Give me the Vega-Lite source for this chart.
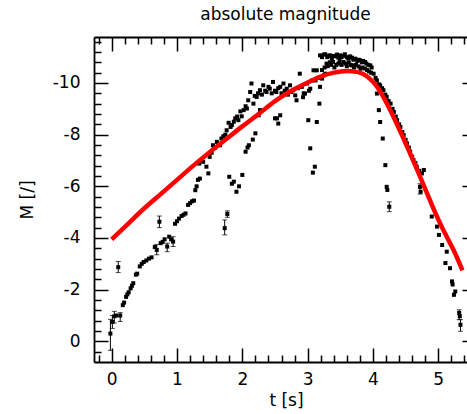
{
  "$schema": "https://vega.github.io/schema/vega-lite/v6.json",
  "width": 373,
  "height": 325,
  "autosize": {"type": "none"},
  "padding": {"left": 94, "top": 37, "right": 0, "bottom": 52},
  "background": "white",
  "config": {
    "view": {"stroke": null},
    "font": "DejaVu Sans",
    "axis": {"grid": false, "domainColor": "black", "domainWidth": 1.8, "tickColor": "black", "tickWidth": 1.5, "labelColor": "black", "titleColor": "black", "labelFont": "DejaVu Sans", "titleFont": "DejaVu Sans", "labelFontSize": 17, "titleFontSize": 17, "titleFontWeight": "normal"}
  },
  "title": {"text": "absolute magnitude", "fontSize": 17, "font": "DejaVu Sans", "fontWeight": "normal", "color": "black", "offset": 9, "dx": 5},
  "datasets": {
    "pts": [
      {"t": -0.02, "M": -0.3, "lo": -0.85, "hi": 0.35},
      {"t": 0.01, "M": -0.75, "lo": -1.0, "hi": -0.5},
      {"t": 0.04, "M": -0.97, "lo": -1.16, "hi": -0.71},
      {"t": 0.07, "M": -1.0},
      {"t": 0.13, "M": -1.0, "lo": -1.11, "hi": -0.77},
      {"t": 0.1, "M": -2.87, "lo": -3.09, "hi": -2.66},
      {"t": 0.17, "M": -1.4},
      {"t": 0.19, "M": -1.5},
      {"t": 0.22, "M": -1.72},
      {"t": 0.24, "M": -1.82},
      {"t": 0.26, "M": -1.9},
      {"t": 0.29, "M": -2.05},
      {"t": 0.31, "M": -2.15},
      {"t": 0.33, "M": -2.25},
      {"t": 0.37, "M": -2.58},
      {"t": 0.39, "M": -2.62},
      {"t": 0.43, "M": -2.9},
      {"t": 0.46, "M": -3.0},
      {"t": 0.49, "M": -3.07},
      {"t": 0.53, "M": -3.13},
      {"t": 0.57, "M": -3.2},
      {"t": 0.61, "M": -3.25},
      {"t": 0.66, "M": -3.65},
      {"t": 0.69, "M": -3.54, "lo": -3.75, "hi": -3.35},
      {"t": 0.73, "M": -4.63, "lo": -4.85, "hi": -4.4},
      {"t": 0.75, "M": -3.8},
      {"t": 0.78, "M": -3.85},
      {"t": 0.81, "M": -3.95},
      {"t": 0.85, "M": -3.67, "lo": -3.8, "hi": -3.47},
      {"t": 0.88, "M": -4.05},
      {"t": 0.91, "M": -3.95},
      {"t": 0.94, "M": -3.86, "lo": -4.05, "hi": -3.67},
      {"t": 0.97, "M": -4.55},
      {"t": 1.0, "M": -4.65},
      {"t": 1.03, "M": -4.75},
      {"t": 1.07, "M": -4.85},
      {"t": 1.1, "M": -4.9},
      {"t": 1.13, "M": -4.95},
      {"t": 1.17, "M": -5.28},
      {"t": 1.2, "M": -5.35},
      {"t": 1.23, "M": -5.42},
      {"t": 1.26, "M": -5.45},
      {"t": 1.28, "M": -5.85},
      {"t": 1.3, "M": -6.0},
      {"t": 1.32, "M": -6.25},
      {"t": 1.35, "M": -6.3},
      {"t": 1.34, "M": -6.88},
      {"t": 1.4, "M": -6.95},
      {"t": 1.45, "M": -6.76},
      {"t": 1.48, "M": -6.5},
      {"t": 1.5, "M": -7.14},
      {"t": 1.53, "M": -7.3},
      {"t": 1.55, "M": -7.59},
      {"t": 1.58, "M": -7.5},
      {"t": 1.61, "M": -7.72},
      {"t": 1.66, "M": -7.59},
      {"t": 1.68, "M": -7.85},
      {"t": 1.71, "M": -7.94},
      {"t": 1.74, "M": -8.0},
      {"t": 1.76, "M": -8.17},
      {"t": 1.79, "M": -8.46},
      {"t": 1.82, "M": -8.3},
      {"t": 1.84, "M": -8.37},
      {"t": 1.87, "M": -8.5},
      {"t": 1.89, "M": -8.63},
      {"t": 1.92, "M": -8.7},
      {"t": 1.94, "M": -8.56},
      {"t": 1.97, "M": -8.9},
      {"t": 1.99, "M": -8.71},
      {"t": 2.02, "M": -8.95},
      {"t": 2.05, "M": -9.1},
      {"t": 2.07, "M": -9.01},
      {"t": 2.09, "M": -9.33},
      {"t": 2.12, "M": -9.65},
      {"t": 2.14, "M": -9.98},
      {"t": 2.17, "M": -9.2},
      {"t": 2.19, "M": -9.5},
      {"t": 2.22, "M": -9.46},
      {"t": 2.24, "M": -9.6},
      {"t": 2.27, "M": -9.72},
      {"t": 2.3, "M": -9.55},
      {"t": 2.32, "M": -9.91},
      {"t": 2.35, "M": -9.7},
      {"t": 2.37, "M": -9.65},
      {"t": 2.4, "M": -9.85},
      {"t": 2.42, "M": -9.78},
      {"t": 2.45, "M": -9.6},
      {"t": 2.47, "M": -10.04},
      {"t": 2.5, "M": -9.7},
      {"t": 2.52, "M": -9.65},
      {"t": 2.55, "M": -9.8},
      {"t": 2.58, "M": -9.85},
      {"t": 2.6, "M": -9.6},
      {"t": 2.63, "M": -9.98},
      {"t": 2.65, "M": -9.7},
      {"t": 2.68, "M": -9.78},
      {"t": 2.7, "M": -9.55},
      {"t": 2.73, "M": -9.91},
      {"t": 2.75, "M": -9.65},
      {"t": 2.78, "M": -9.72},
      {"t": 2.81, "M": -9.52},
      {"t": 2.83, "M": -9.33},
      {"t": 2.85, "M": -9.8},
      {"t": 2.88, "M": -10.36},
      {"t": 2.91, "M": -9.85},
      {"t": 2.94, "M": -9.6},
      {"t": 2.96, "M": -9.59},
      {"t": 2.99, "M": -9.98},
      {"t": 3.02, "M": -9.7},
      {"t": 3.04, "M": -9.78},
      {"t": 3.07, "M": -10.1},
      {"t": 3.09, "M": -10.49},
      {"t": 3.12, "M": -10.1},
      {"t": 3.14, "M": -10.49},
      {"t": 3.17, "M": -10.2},
      {"t": 3.19, "M": -9.85},
      {"t": 3.22, "M": -10.17},
      {"t": 3.25, "M": -10.3},
      {"t": 3.27, "M": -10.36},
      {"t": 1.73, "M": -4.38, "lo": -4.7, "hi": -4.12},
      {"t": 1.77, "M": -4.93, "lo": -5.05, "hi": -4.8},
      {"t": 1.8, "M": -6.37},
      {"t": 1.84, "M": -6.1},
      {"t": 1.87, "M": -6.18},
      {"t": 1.91, "M": -5.79},
      {"t": 1.95, "M": -6.0},
      {"t": 2.0, "M": -6.44},
      {"t": 2.05, "M": -7.34},
      {"t": 2.08, "M": -7.5},
      {"t": 2.1, "M": -7.59},
      {"t": 2.16, "M": -7.81},
      {"t": 2.2, "M": -8.05},
      {"t": 2.25, "M": -8.75},
      {"t": 2.27, "M": -8.95},
      {"t": 2.5, "M": -8.63},
      {"t": 2.53, "M": -8.63},
      {"t": 2.55, "M": -8.43},
      {"t": 2.58, "M": -8.75},
      {"t": 2.93, "M": -9.45},
      {"t": 3.01, "M": -8.56},
      {"t": 3.04, "M": -7.47},
      {"t": 3.08, "M": -6.53},
      {"t": 3.11, "M": -6.76},
      {"t": 3.14, "M": -8.49},
      {"t": 3.18, "M": -9.2},
      {"t": 3.19, "M": -11.07},
      {"t": 3.22, "M": -11.0},
      {"t": 3.25, "M": -11.1},
      {"t": 3.27, "M": -11.11},
      {"t": 3.3, "M": -11.0},
      {"t": 3.32, "M": -11.05},
      {"t": 3.34, "M": -11.07},
      {"t": 3.37, "M": -10.95},
      {"t": 3.39, "M": -11.05},
      {"t": 3.42, "M": -11.03},
      {"t": 3.45, "M": -11.1},
      {"t": 3.47, "M": -10.98},
      {"t": 3.5, "M": -11.07},
      {"t": 3.52, "M": -11.0},
      {"t": 3.55, "M": -11.05},
      {"t": 3.57, "M": -11.11},
      {"t": 3.6, "M": -11.0},
      {"t": 3.62, "M": -10.95},
      {"t": 3.65, "M": -11.03},
      {"t": 3.68, "M": -10.98},
      {"t": 3.7, "M": -10.9},
      {"t": 3.73, "M": -10.94},
      {"t": 3.76, "M": -10.85},
      {"t": 3.78, "M": -10.9},
      {"t": 3.8, "M": -10.88},
      {"t": 3.83, "M": -10.8},
      {"t": 3.85, "M": -10.85},
      {"t": 3.88, "M": -10.81},
      {"t": 3.9, "M": -10.75},
      {"t": 3.93, "M": -10.7},
      {"t": 3.96, "M": -10.68},
      {"t": 3.98, "M": -10.6},
      {"t": 3.22, "M": -10.5},
      {"t": 3.26, "M": -10.6},
      {"t": 3.29, "M": -10.75},
      {"t": 3.31, "M": -10.65},
      {"t": 3.34, "M": -10.8},
      {"t": 3.36, "M": -10.7},
      {"t": 3.39, "M": -10.81},
      {"t": 3.41, "M": -10.6},
      {"t": 3.44, "M": -10.7},
      {"t": 3.47, "M": -10.75},
      {"t": 3.49, "M": -10.85},
      {"t": 3.52, "M": -10.7},
      {"t": 3.55, "M": -10.81},
      {"t": 3.58, "M": -10.75},
      {"t": 3.6, "M": -10.65},
      {"t": 3.63, "M": -10.8},
      {"t": 3.66, "M": -10.7},
      {"t": 3.68, "M": -10.68},
      {"t": 3.71, "M": -10.6},
      {"t": 3.74, "M": -10.7},
      {"t": 3.78, "M": -10.64},
      {"t": 3.81, "M": -10.55},
      {"t": 3.84, "M": -10.6},
      {"t": 3.88, "M": -10.56},
      {"t": 3.91, "M": -10.5},
      {"t": 3.94, "M": -10.45},
      {"t": 3.97, "M": -10.4},
      {"t": 4.01, "M": -10.36},
      {"t": 4.04, "M": -10.2},
      {"t": 4.06, "M": -10.1},
      {"t": 4.09, "M": -9.95},
      {"t": 4.11, "M": -9.91},
      {"t": 4.14, "M": -9.8},
      {"t": 4.16, "M": -9.72},
      {"t": 4.19, "M": -9.55},
      {"t": 4.21, "M": -9.46},
      {"t": 4.24, "M": -9.3},
      {"t": 4.27, "M": -9.2},
      {"t": 4.3, "M": -9.0},
      {"t": 4.32, "M": -8.88},
      {"t": 4.35, "M": -8.7},
      {"t": 4.37, "M": -8.56},
      {"t": 4.4, "M": -8.4},
      {"t": 4.42, "M": -8.3},
      {"t": 4.45, "M": -8.1},
      {"t": 4.47, "M": -7.98},
      {"t": 4.5, "M": -7.8},
      {"t": 4.52, "M": -7.66},
      {"t": 4.55, "M": -7.5},
      {"t": 4.57, "M": -7.34},
      {"t": 4.6, "M": -7.15},
      {"t": 4.62, "M": -7.02},
      {"t": 4.65, "M": -6.9},
      {"t": 4.67, "M": -6.76},
      {"t": 4.71, "M": -6.6},
      {"t": 4.75, "M": -6.5},
      {"t": 4.78, "M": -6.63},
      {"t": 4.72, "M": -5.98, "lo": -6.1, "hi": -5.7},
      {"t": 4.73, "M": -5.79},
      {"t": 4.9, "M": -4.83},
      {"t": 4.98, "M": -4.44},
      {"t": 5.01, "M": -4.12},
      {"t": 5.06, "M": -3.73},
      {"t": 5.13, "M": -3.47},
      {"t": 5.11, "M": -3.03},
      {"t": 5.18, "M": -2.83},
      {"t": 5.21, "M": -2.32},
      {"t": 5.22, "M": -2.2},
      {"t": 5.24, "M": -1.8},
      {"t": 5.26, "M": -1.93},
      {"t": 5.32, "M": -1.1, "lo": -1.22, "hi": -0.84},
      {"t": 5.33, "M": -0.97},
      {"t": 5.34, "M": -0.64, "lo": -0.84, "hi": -0.39},
      {"t": 4.06, "M": -9.59},
      {"t": 4.09, "M": -8.95},
      {"t": 4.11, "M": -8.49},
      {"t": 4.15, "M": -7.85},
      {"t": 4.19, "M": -6.82},
      {"t": 4.21, "M": -5.98},
      {"t": 4.22, "M": -5.86},
      {"t": 4.25, "M": -5.21, "lo": -5.4, "hi": -5.02}
    ],
    "fit": [
      {"t": 0.0, "M": -3.95},
      {"t": 0.25, "M": -4.55},
      {"t": 0.5, "M": -5.15},
      {"t": 0.75, "M": -5.7},
      {"t": 1.0, "M": -6.25},
      {"t": 1.25, "M": -6.8},
      {"t": 1.5, "M": -7.32},
      {"t": 1.75, "M": -7.82},
      {"t": 2.0, "M": -8.32},
      {"t": 2.25, "M": -8.8},
      {"t": 2.5, "M": -9.3},
      {"t": 2.75, "M": -9.7},
      {"t": 3.0, "M": -10.02},
      {"t": 3.2, "M": -10.25},
      {"t": 3.4, "M": -10.4},
      {"t": 3.6, "M": -10.46},
      {"t": 3.75, "M": -10.43},
      {"t": 3.85, "M": -10.35},
      {"t": 3.95, "M": -10.17},
      {"t": 4.05, "M": -9.9},
      {"t": 4.15, "M": -9.5},
      {"t": 4.25, "M": -9.02},
      {"t": 4.35, "M": -8.5},
      {"t": 4.45, "M": -7.95},
      {"t": 4.55, "M": -7.38},
      {"t": 4.65, "M": -6.8},
      {"t": 4.75, "M": -6.2},
      {"t": 4.85, "M": -5.6},
      {"t": 4.95, "M": -5.0},
      {"t": 5.05, "M": -4.45},
      {"t": 5.15, "M": -3.95},
      {"t": 5.25, "M": -3.45},
      {"t": 5.37, "M": -2.75}
    ]
  },
  "resolve": {"axis": {"x": "independent", "y": "independent"}},
  "layer": [
    {
      "data": {"name": "pts"},
      "transform": [{"filter": "isValid(datum.lo)"}],
      "mark": {"type": "rule", "color": "black", "strokeWidth": 1},
      "encoding": {
        "x": {"field": "t", "type": "quantitative", "scale": {"domain": [-0.271, 5.44], "nice": false, "zero": false},
          "axis": {"orient": "bottom", "title": "t [s]", "values": [-0.2,0,0.2,0.4,0.6,0.8,1,1.2,1.4,1.6,1.8,2,2.2,2.4,2.6,2.8,3,3.2,3.4,3.6,3.8,4,4.2,4.4,4.6,4.8,5,5.2,5.4],
            "tickSize": {"condition": {"test": "datum.value % 1 === 0", "value": -14}, "value": -7},
            "labelExpr": "datum.value % 1 === 0 ? toString(datum.value) : ''",
            "labelPadding": 23, "labelFlush": false, "labelOverlap": false,
            "titleX": 192, "titleY": 43, "titleBaseline": "alphabetic", "titleAlign": "center"}},
        "y": {"field": "lo", "type": "quantitative", "scale": {"domain": [-11.78, 0.8], "nice": false, "zero": false, "reverse": true},
          "axis": {"orient": "left", "title": "M [/]", "values": [-11.6,-11.2,-10.8,-10.4,-10,-9.6,-9.2,-8.8,-8.4,-8,-7.6,-7.2,-6.8,-6.4,-6,-5.6,-5.2,-4.8,-4.4,-4,-3.6,-3.2,-2.8,-2.4,-2,-1.6,-1.2,-0.8,-0.4,0,0.4],
            "tickSize": {"condition": {"test": "datum.value % 2 === 0", "value": -14}, "value": -7},
            "labelExpr": "datum.value % 2 === 0 ? toString(datum.value) : ''",
            "labelPadding": 28, "labelFlush": false, "labelOverlap": false,
            "titleX": -67, "titleBaseline": "middle"}},
        "y2": {"field": "hi"}
      }
    },
    {
      "data": {"name": "pts"},
      "transform": [{"filter": "isValid(datum.lo)"}],
      "mark": {"type": "tick", "orient": "horizontal", "color": "black", "size": 5, "thickness": 1},
      "encoding": {
        "x": {"field": "t", "type": "quantitative", "axis": {"orient": "top", "title": null, "labels": false, "values": [-0.2,0,0.2,0.4,0.6,0.8,1,1.2,1.4,1.6,1.8,2,2.2,2.4,2.6,2.8,3,3.2,3.4,3.6,3.8,4,4.2,4.4,4.6,4.8,5,5.2,5.4],
            "tickSize": {"condition": {"test": "datum.value % 1 === 0", "value": -14}, "value": -7}}},
        "y": {"field": "lo", "type": "quantitative", "axis": {"orient": "right", "title": null, "labels": false, "domain": false, "values": [-10,-8,-6,-4,-2,0], "tickSize": -5}}
      }
    },
    {
      "data": {"name": "pts"},
      "transform": [{"filter": "isValid(datum.hi)"}],
      "mark": {"type": "tick", "orient": "horizontal", "color": "black", "size": 5, "thickness": 1},
      "encoding": {
        "x": {"field": "t", "type": "quantitative", "axis": null},
        "y": {"field": "hi", "type": "quantitative", "axis": null}
      }
    },
    {
      "data": {"name": "pts"},
      "mark": {"type": "square", "color": "black", "filled": true, "opacity": 1, "size": 16},
      "encoding": {
        "x": {"field": "t", "type": "quantitative", "axis": null},
        "y": {"field": "M", "type": "quantitative", "axis": null}
      }
    },
    {
      "data": {"name": "fit"},
      "mark": {"type": "line", "color": "#ff0000", "strokeWidth": 4.5, "interpolate": "monotone"},
      "encoding": {
        "x": {"field": "t", "type": "quantitative", "axis": null},
        "y": {"field": "M", "type": "quantitative", "axis": null}
      }
    }
  ]
}
